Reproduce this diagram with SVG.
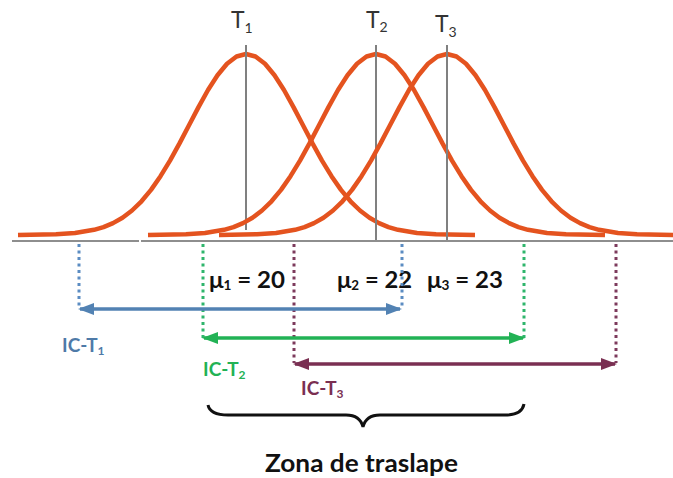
<svg xmlns="http://www.w3.org/2000/svg" xmlns:xlink="http://www.w3.org/1999/xlink" width="673" height="478" viewBox="0 0 673 478">
<style>
.bell{fill:none;stroke:#e4531f;stroke-width:4.5;stroke-linejoin:round;stroke-linecap:butt}
.tline{stroke:#808080;stroke-width:2}
.axis{stroke:#8e8e8e;stroke-width:2;fill:none}
.tl{font-family:Lato,"Open Sans",sans-serif;font-size:23px;fill:#333}
.tsub{font-size:14px}
.mu{font-family:Lato,"Open Sans",sans-serif;font-weight:bold;font-size:23px;fill:#111}
.musub{font-size:13px}
.ic{font-family:Lato,"Open Sans",sans-serif;font-weight:bold;font-size:19px}
.icsub{font-size:12px}
.dot{stroke-width:3;stroke-dasharray:3 3.5;fill:none}
.arr{stroke-width:3.5;fill:none}
.blue{stroke:#5282b3}
.green{stroke:#22b255}
.purple{stroke:#7a2f52}
</style>
<defs>
<path id="bell" d="M-228,235 L-190,234.3 L-171,233 L-152,229.8 L-142.5,227.1 L-133,223.1 L-123.5,217.7 L-114,210.5 L-104.5,201.3 L-95,189.9 L-85.5,176.2 L-76,160.6 L-66.5,143.4 L-57,125.2 L-47.5,107.1 L-38,90 L-28.5,75.3 L-19,63.8 L-9.5,56.5 L0,54 L9.5,56.5 L19,63.8 L28.5,75.3 L38,90 L47.5,107.1 L57,125.2 L66.5,143.4 L76,160.6 L85.5,176.2 L95,189.9 L104.5,201.3 L114,210.5 L123.5,217.7 L133,223.1 L142.5,227.1 L152,229.8 L171,233 L190,234.3 L229,235"/>
<marker id="ahB" markerUnits="userSpaceOnUse" markerWidth="16" markerHeight="14" viewBox="0 0 16 14" refX="14" refY="7" orient="auto-start-reverse"><path d="M0,1 L16,7 L0,13 Z" fill="#5282b3"/></marker>
<marker id="ahG" markerUnits="userSpaceOnUse" markerWidth="16" markerHeight="14" viewBox="0 0 16 14" refX="14" refY="7" orient="auto-start-reverse"><path d="M0,1 L16,7 L0,13 Z" fill="#22b255"/></marker>
<marker id="ahP" markerUnits="userSpaceOnUse" markerWidth="16" markerHeight="14" viewBox="0 0 16 14" refX="14" refY="7" orient="auto-start-reverse"><path d="M0,1 L16,7 L0,13 Z" fill="#7a2f52"/></marker>
</defs>

<g id="axis">
<line class="axis" x1="12" y1="241" x2="139" y2="241"/>
<line class="axis" x1="141" y1="241" x2="673" y2="241"/>
</g>

<g id="curve-T1">
<use xlink:href="#bell" href="#bell" class="bell" transform="translate(246,0)"/>
<line class="tline" x1="246" y1="45" x2="246" y2="230"/>
<text class="tl" x="231" y="28">T<tspan class="tsub" dy="5">1</tspan></text>
</g>
<g id="curve-T2">
<use xlink:href="#bell" href="#bell" class="bell" transform="translate(376,0)"/>
<line class="tline" x1="376" y1="45" x2="376" y2="240"/>
<text class="tl" x="366" y="28">T<tspan class="tsub" dy="4">2</tspan></text>
</g>
<g id="curve-T3">
<use xlink:href="#bell" href="#bell" class="bell" transform="translate(447,0)"/>
<line class="tline" x1="447" y1="45" x2="447" y2="240"/>
<text class="tl" x="435" y="32">T<tspan class="tsub" dy="5">3</tspan></text>
</g>

<g id="means">
<text class="mu" x="209" y="288" textLength="76" lengthAdjust="spacingAndGlyphs">μ<tspan class="musub" dy="2">1</tspan><tspan dy="-2"> = 20</tspan></text>
<text class="mu" x="337" y="288" textLength="75" lengthAdjust="spacingAndGlyphs">μ<tspan class="musub" dy="2">2</tspan><tspan dy="-2"> = 22</tspan></text>
<text class="mu" x="427" y="288" textLength="76" lengthAdjust="spacingAndGlyphs">μ<tspan class="musub" dy="2">3</tspan><tspan dy="-2"> = 23</tspan></text>
</g>

<g id="connectors">
<line class="dot blue" x1="79" y1="244" x2="79" y2="308" style="stroke:#5b8cc2"/>
<line class="dot blue" x1="402" y1="244" x2="402" y2="308" style="stroke:#5b8cc2"/>
<line class="dot green" x1="203" y1="244" x2="203" y2="338" style="stroke:#2fb56c"/>
<line class="dot green" x1="524" y1="244" x2="524" y2="338" style="stroke:#2fb56c"/>
<line class="dot purple" x1="294" y1="244" x2="294" y2="363" style="stroke:#7d3a5c"/>
<line class="dot purple" x1="616" y1="244" x2="616" y2="363" style="stroke:#7d3a5c"/>
<line class="arr blue" x1="80" y1="309" x2="400" y2="309" marker-start="url(#ahB)" marker-end="url(#ahB)"/>
<line class="arr green" x1="204" y1="338" x2="523" y2="338" marker-start="url(#ahG)" marker-end="url(#ahG)"/>
<line class="arr purple" x1="295" y1="364" x2="615" y2="364" marker-start="url(#ahP)" marker-end="url(#ahP)"/>
</g>

<g id="labels">
<text class="ic" x="62" y="352" fill="#4e7aa8">IC-T<tspan class="icsub" dy="3">1</tspan></text>
<text class="ic" x="203" y="376" fill="#22b255">IC-T<tspan class="icsub" dy="3">2</tspan></text>
<text class="ic" x="301" y="395" fill="#7a2f52">IC-T<tspan class="icsub" dy="3">3</tspan></text>
</g>

<g id="overlap-zone">
<path d="M208,405 Q210,415 228,415 L346,415 Q360,415 363,427 Q366,415 380,415 L505,415 Q522,415 524,404" fill="none" stroke="#111" stroke-width="3"/>
<text x="265" y="472" font-family="Lato,'Open Sans',sans-serif" font-weight="bold" font-size="25" fill="#111" textLength="193" lengthAdjust="spacingAndGlyphs">Zona de traslape</text>
</g>
</svg>
